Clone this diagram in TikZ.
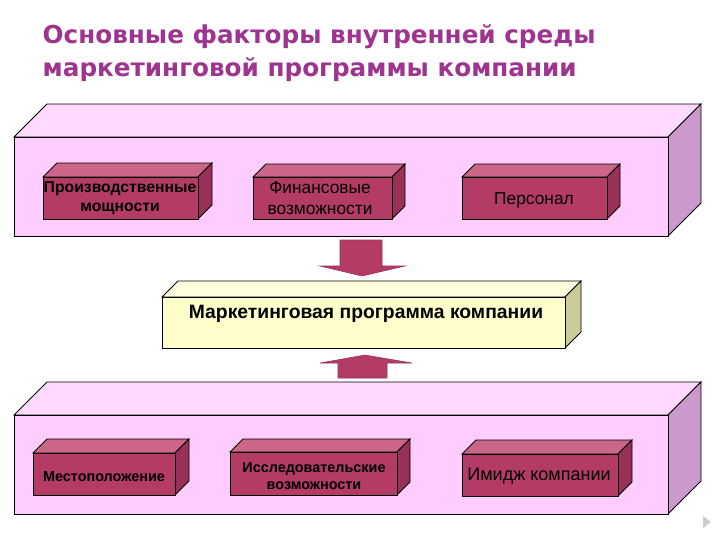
\documentclass[tikz,border=0pt]{standalone}
\usepackage{fontspec}
\setmainfont{Liberation Sans}
\newfontfamily\titlefont{DejaVu Sans}
\definecolor{bigF}{HTML}{FFCCFF}
\definecolor{bigT}{HTML}{FFD9FF}
\definecolor{bigS}{HTML}{CC99CC}
\definecolor{smF}{HTML}{B33B66}
\definecolor{smT}{HTML}{CC6688}
\definecolor{smS}{HTML}{993058}
\definecolor{yF}{HTML}{FFFFCC}
\definecolor{yT}{HTML}{FFFFDD}
\definecolor{yS}{HTML}{CCCC99}
\definecolor{ttl}{HTML}{9E3390}
\newcommand{\cuboid}[8]{%
 \fill[#7,draw=black,line width=0.6pt] (#1,#2)--(#1+#5,#2-#5)--(#3+#5,#2-#5)--(#3,#2)--cycle;
 \fill[#8,draw=black,line width=0.6pt] (#3,#2)--(#3+#5,#2-#5)--(#3+#5,#4-#5)--(#3,#4)--cycle;
 \fill[#6,draw=black,line width=0.6pt] (#1,#2) rectangle (#3,#4);}
\begin{document}
\begin{tikzpicture}[x=0.75pt,y=-0.75pt,
  lbl/.style={align=center,text=black}]
\useasboundingbox (0,0) rectangle (720,540);
\fill[white] (0,0) rectangle (720,540);
\node[anchor=west,text=ttl,font=\titlefont\bfseries\fontsize{18.5}{25}\selectfont,align=left] (title) at (38,53)
 {Основные факторы внутренней среды\\маркетинговой программы компании};
% top big box
\cuboid{14}{137}{668}{236}{33}{bigF}{bigT}{bigS}
\cuboid{43}{177}{198}{219}{14}{smF}{smT}{smS}
\cuboid{253}{177}{392}{219}{13}{smF}{smT}{smS}
\cuboid{462}{177}{607}{219}{13}{smF}{smT}{smS}
\node[lbl,font=\bfseries\fontsize{11.8}{14}\selectfont] (p1) at (120,198) {Производственные\\мощности};
\node[lbl,font=\fontsize{13}{16}\selectfont] (p2) at (320,198) {Финансовые\\возможности};
\node[lbl,font=\fontsize{13}{16}\selectfont] (p3) at (534,200) {Персонал};
% down arrow
\fill[smF,draw=smS] (340,240)--(382,240)--(382,266)--(405,266)--(362,276)--(320,266)--(340,266)--cycle;
% middle
\cuboid{162}{297}{565}{348}{16}{yF}{yT}{yS}
\node[lbl,font=\bfseries\fontsize{14.5}{16}\selectfont] (mp) at (366,314) {Маркетинговая программа компании};
% up arrow
\fill[smF,draw=smS] (338,378)--(387,378)--(387,363)--(412,363)--(365,355)--(320,363)--(338,363)--cycle;
% bottom big box
\cuboid{14}{415}{668}{514}{33}{bigF}{bigT}{bigS}
\cuboid{33}{453}{175}{495}{14}{smF}{smT}{smS}
\cuboid{230}{452}{397}{495}{13}{smF}{smT}{smS}
\cuboid{462}{454}{618}{496}{14}{smF}{smT}{smS}
\node[lbl,font=\bfseries\fontsize{10.8}{13}\selectfont] (q1) at (104,477) {Местоположение};
\node[lbl,font=\bfseries\fontsize{10.8}{13}\selectfont] (q2) at (314,476) {Исследовательские\\возможности};
\node[lbl,font=\fontsize{13.5}{15}\selectfont] (q3) at (539,476) {Имидж компании};
% slide decoration
\fill[gray!40] (703,516)--(711,522)--(703,528)--cycle;
\end{tikzpicture}
\end{document}
